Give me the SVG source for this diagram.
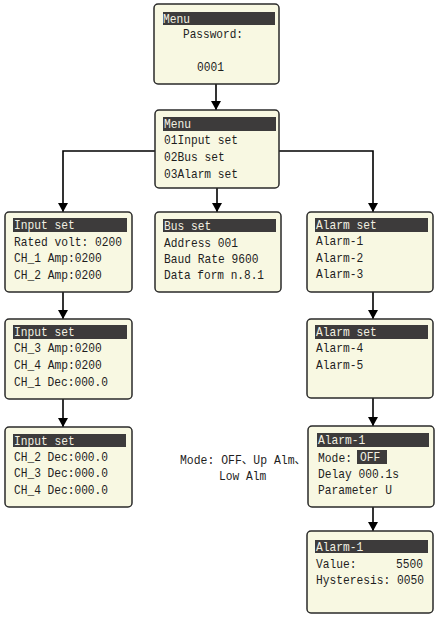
<svg xmlns="http://www.w3.org/2000/svg" width="436" height="622" viewBox="0 0 436 622">
<defs>
<style>
.box{fill:#f8f8e2;stroke:#2a2a2a;stroke-width:1.5}
.bar{fill:#3d3b3b}
.t{font-family:"Liberation Mono","Noto Sans CJK SC",monospace;font-size:13.5px;fill:#1e1e1e}
.s{font-size:12.2px}
.n{font-size:12px}
.h{fill:#f2f0e2}
.ln{fill:none;stroke:#000;stroke-width:1.6}
</style>
<marker id="ah" markerUnits="userSpaceOnUse" markerWidth="9" markerHeight="10" refX="9" refY="5" orient="auto" viewBox="0 0 9 10">
<path d="M0,0 L9,5 L0,10 Z" fill="#000"/>
</marker>
</defs>
<rect width="436" height="622" fill="#fff"/>
<g id="connectors">
<line class="ln" x1="216" y1="84" x2="216" y2="110" marker-end="url(#ah)"/>
<line class="ln" x1="217" y1="188" x2="217" y2="212" marker-end="url(#ah)"/>
<polyline class="ln" points="155,151 63,151 63,212" marker-end="url(#ah)"/>
<polyline class="ln" points="279,151 373,151 373,212" marker-end="url(#ah)"/>
<line class="ln" x1="63" y1="292" x2="63" y2="319" marker-end="url(#ah)"/>
<line class="ln" x1="63" y1="399" x2="63" y2="427" marker-end="url(#ah)"/>
<line class="ln" x1="373" y1="292" x2="373" y2="319" marker-end="url(#ah)"/>
<line class="ln" x1="373" y1="398" x2="373" y2="426" marker-end="url(#ah)"/>
<line class="ln" x1="373" y1="507" x2="373" y2="531" marker-end="url(#ah)"/>
</g>
<g id="menu-password">
<rect class="box" x="154" y="4" width="125" height="80" rx="4"/>
<rect class="bar" x="163" y="12" width="112" height="13"/>
<text class="t h" x="163" y="23" textLength="27" lengthAdjust="spacingAndGlyphs">Menu</text>
<text class="t" x="183" y="38" textLength="60" lengthAdjust="spacingAndGlyphs">Password:</text>
<text class="t" x="197" y="71" textLength="27" lengthAdjust="spacingAndGlyphs">0001</text>
</g>
<g id="menu">
<rect class="box" x="155" y="110" width="124" height="78" rx="4"/>
<rect class="bar" x="163" y="117" width="113" height="14"/>
<text class="t h" x="164" y="128" textLength="27" lengthAdjust="spacingAndGlyphs">Menu</text>
<text class="t" x="164" y="144" textLength="74" lengthAdjust="spacingAndGlyphs">01Input set</text>
<text class="t" x="164" y="161" textLength="60.75" lengthAdjust="spacingAndGlyphs">02Bus set</text>
<text class="t" x="164" y="178" textLength="74" lengthAdjust="spacingAndGlyphs">03Alarm set</text>
</g>
<g id="input-set-1">
<rect class="box" x="5" y="212" width="127" height="80" rx="4"/>
<rect class="bar" x="13" y="218" width="114" height="14"/>
<text class="t h" x="14" y="229" textLength="60.75" lengthAdjust="spacingAndGlyphs">Input set</text>
<text class="t" x="14" y="246" textLength="108" lengthAdjust="spacingAndGlyphs">Rated volt: 0200</text>
<text class="t" x="14" y="262" textLength="87.75" lengthAdjust="spacingAndGlyphs">CH_1 Amp:0200</text>
<text class="t" x="14" y="279" textLength="87.75" lengthAdjust="spacingAndGlyphs">CH_2 Amp:0200</text>
</g>
<g id="bus-set">
<rect class="box" x="155" y="212" width="126" height="80" rx="4"/>
<rect class="bar" x="163" y="219" width="113" height="13"/>
<text class="t h" x="164" y="230" textLength="47.25" lengthAdjust="spacingAndGlyphs">Bus set</text>
<text class="t" x="164" y="247" textLength="74" lengthAdjust="spacingAndGlyphs">Address 001</text>
<text class="t" x="164" y="263" textLength="94.5" lengthAdjust="spacingAndGlyphs">Baud Rate 9600</text>
<text class="t" x="164" y="279" textLength="100" lengthAdjust="spacingAndGlyphs">Data form n.8.1</text>
</g>
<g id="alarm-set-1">
<rect class="box" x="307" y="212" width="126" height="80" rx="4"/>
<rect class="bar" x="315" y="218" width="113" height="14"/>
<text class="t h" x="316" y="229" textLength="60.75" lengthAdjust="spacingAndGlyphs">Alarm set</text>
<text class="t" x="316" y="245" textLength="47.25" lengthAdjust="spacingAndGlyphs">Alarm-1</text>
<text class="t" x="316" y="262" textLength="47.25" lengthAdjust="spacingAndGlyphs">Alarm-2</text>
<text class="t" x="316" y="278" textLength="47.25" lengthAdjust="spacingAndGlyphs">Alarm-3</text>
</g>
<g id="input-set-2">
<rect class="box" x="5" y="319" width="127" height="80" rx="4"/>
<rect class="bar" x="13" y="325" width="114" height="14"/>
<text class="t h" x="14" y="336" textLength="60.75" lengthAdjust="spacingAndGlyphs">Input set</text>
<text class="t" x="14" y="352" textLength="87.75" lengthAdjust="spacingAndGlyphs">CH_3 Amp:0200</text>
<text class="t" x="14" y="369" textLength="87.75" lengthAdjust="spacingAndGlyphs">CH_4 Amp:0200</text>
<text class="t" x="14" y="386" textLength="94" lengthAdjust="spacingAndGlyphs">CH_1 Dec:000.0</text>
</g>
<g id="alarm-set-2">
<rect class="box" x="307" y="319" width="126" height="79" rx="4"/>
<rect class="bar" x="315" y="325" width="113" height="14"/>
<text class="t h" x="316" y="336" textLength="60.75" lengthAdjust="spacingAndGlyphs">Alarm set</text>
<text class="t" x="316" y="352" textLength="47.25" lengthAdjust="spacingAndGlyphs">Alarm-4</text>
<text class="t" x="316" y="369" textLength="47.25" lengthAdjust="spacingAndGlyphs">Alarm-5</text>
</g>
<g id="input-set-3">
<rect class="box" x="5" y="427" width="127" height="80" rx="4"/>
<rect class="bar" x="13" y="434" width="113" height="13"/>
<text class="t h" x="14" y="445" textLength="60.75" lengthAdjust="spacingAndGlyphs">Input set</text>
<text class="t" x="14" y="461" textLength="94" lengthAdjust="spacingAndGlyphs">CH_2 Dec:000.0</text>
<text class="t" x="14" y="477" textLength="94" lengthAdjust="spacingAndGlyphs">CH_3 Dec:000.0</text>
<text class="t" x="14" y="494" textLength="94" lengthAdjust="spacingAndGlyphs">CH_4 Dec:000.0</text>
</g>
<g id="mode-note">
<text class="t n" x="180" y="464" textLength="126" lengthAdjust="spacingAndGlyphs">Mode: OFF、Up Alm、</text>
<text class="t" x="219" y="480" textLength="47.25" lengthAdjust="spacingAndGlyphs">Low Alm</text>
</g>
<g id="alarm-1-mode">
<rect class="box" x="308" y="426" width="126" height="81" rx="4"/>
<rect class="bar" x="317" y="433" width="112" height="14"/>
<text class="t h" x="318" y="444" textLength="47.25" lengthAdjust="spacingAndGlyphs">Alarm-1</text>
<text class="t s" x="318" y="462" textLength="34" lengthAdjust="spacingAndGlyphs">Mode:</text>
<rect class="bar" x="357" y="450" width="30" height="14"/>
<text class="t h" x="360" y="461" textLength="20.25" lengthAdjust="spacingAndGlyphs">OFF</text>
<text class="t" x="318" y="478" textLength="81" lengthAdjust="spacingAndGlyphs">Delay 000.1s</text>
<text class="t" x="318" y="494" textLength="74" lengthAdjust="spacingAndGlyphs">Parameter U</text>
</g>
<g id="alarm-1-value">
<rect class="box" x="307" y="531" width="126" height="82" rx="4"/>
<rect class="bar" x="315" y="540" width="113" height="13"/>
<text class="t h" x="316" y="551" textLength="47.25" lengthAdjust="spacingAndGlyphs">Alarm-1</text>
<text class="t" x="316" y="568" textLength="40.5" lengthAdjust="spacingAndGlyphs">Value:</text>
<text class="t" x="396" y="568" textLength="27" lengthAdjust="spacingAndGlyphs">5500</text>
<text class="t s" x="316" y="584" textLength="108" lengthAdjust="spacingAndGlyphs">Hysteresis: 0050</text>
</g>
</svg>
